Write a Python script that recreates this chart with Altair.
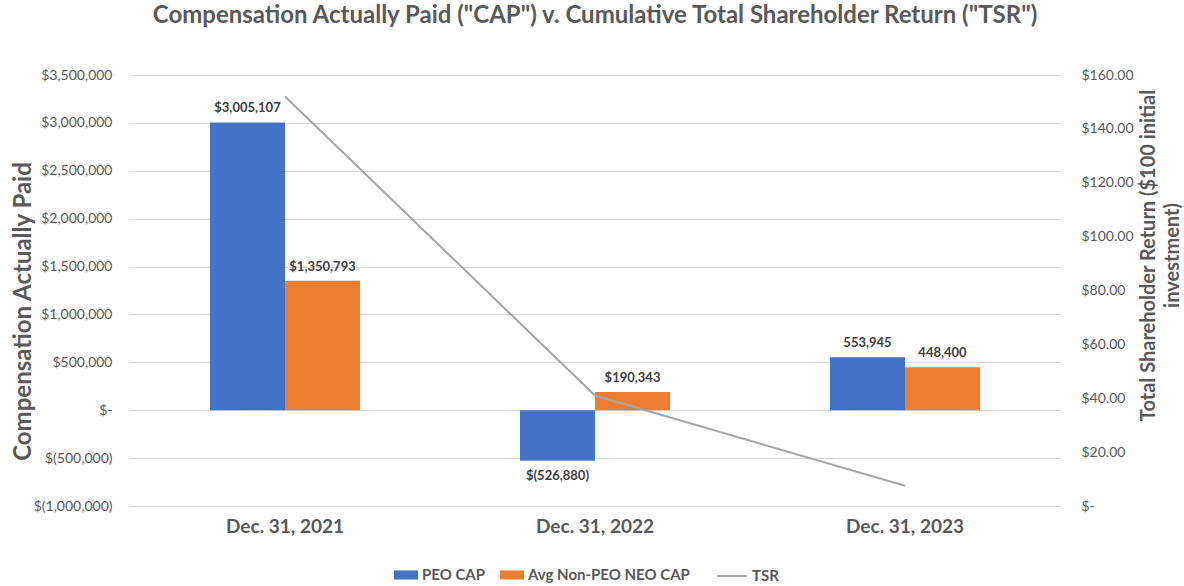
import altair as alt
import pandas as pd

years = ["Dec. 31, 2021", "Dec. 31, 2022", "Dec. 31, 2023"]
series_names = ["PEO CAP", "Avg Non-PEO NEO CAP"]
peo_cap = [3005107, -526880, 553945]
neo_cap = [1350793, 190343, 448400]
peo_labels = ["$3,005,107", "$(526,880)", "553,945"]
neo_labels = ["$1,350,793", "$190,343", "448,400"]
tsr_values = [152.0, 41.0, 7.5]
left_ticks = [-1000000, -500000, 0, 500000, 1000000, 1500000, 2000000, 2500000, 3000000, 3500000]
right_ticks = [0, 20, 40, 60, 80, 100, 120, 140, 160]

rows = []
for i, y in enumerate(years):
    rows.append({"year": y, "series": series_names[0], "value": peo_cap[i], "label": peo_labels[i]})
    rows.append({"year": y, "series": series_names[1], "value": neo_cap[i], "label": neo_labels[i]})
bars_df = pd.DataFrame(rows)
tsr_df = pd.DataFrame({"year": years, "tsr": tsr_values, "metric": ["TSR"] * 3})

FONT = "Lato"
GRAY = "#595959"

x_axis = alt.Axis(title=None, labelAngle=0, labelFont=FONT, labelFontSize=19, labelFontWeight="bold",
                  labelColor=GRAY, labelPadding=11, ticks=False, domain=False, grid=False)
x_enc = alt.X("year:N", sort=years, axis=x_axis,
              scale=alt.Scale(paddingInner=0.516, paddingOuter=0.258))
xoff = alt.XOffset("series:N", sort=series_names, scale=alt.Scale(paddingInner=0, paddingOuter=0))

left_axis = alt.Axis(
    values=left_ticks, title="Compensation Actually Paid", titleFont=FONT, titleFontSize=24,
    titleFontWeight="bold", titleColor=GRAY, titleX=-107, titleY=236, titleAngle=-90,
    titleBaseline="middle", titleAlign="center",
    labelFont=FONT, labelFontSize=14, labelColor=GRAY, labelPadding=18, ticks=False, domain=False,
    grid=True, gridColor="#D9D9D9", gridWidth=1,
    labelExpr="datum.value == 0 ? '$-' : (datum.value < 0 ? '$(' + format(-datum.value, ',') + ')' : '$' + format(datum.value, ','))",
)
y_scale = alt.Scale(domain=[-1000000, 3500000], nice=False, zero=False)

bars = alt.Chart(bars_df).mark_bar().encode(
    x=x_enc,
    xOffset=xoff,
    y=alt.Y("value:Q", scale=y_scale, axis=left_axis),
    color=alt.Color("series:N", sort=series_names,
                    scale=alt.Scale(domain=series_names, range=["#4472C4", "#ED7D31"]),
                    legend=alt.Legend(title=None, orient="none", direction="horizontal",
                                      legendX=264, legendY=488, labelLimit=400,
                                      symbolType="M-1,-0.38H1V0.38H-1Z", symbolSize=576,
                                      labelFont=FONT, labelFontSize=15, labelFontWeight="bold",
                                      labelColor=GRAY, columnPadding=14, symbolOffset=0,
                                      symbolStrokeWidth=0)),
)

text_pos = alt.Chart(bars_df).transform_filter("datum.value >= 0").mark_text(
    baseline="bottom", dy=-7, font=FONT, fontSize=13, fontWeight="bold", color="#404040"
).encode(x=x_enc, xOffset=xoff, y=alt.Y("value:Q", scale=y_scale, axis=left_axis), text="label:N")

text_neg = alt.Chart(bars_df).transform_filter("datum.value < 0").mark_text(
    baseline="top", dy=9, font=FONT, fontSize=13, fontWeight="bold", color="#404040"
).encode(x=x_enc, xOffset=xoff, y=alt.Y("value:Q", scale=y_scale, axis=left_axis), text="label:N")

right_axis = alt.Axis(
    orient="right", values=right_ticks, title=["Total Shareholder Return ($100 initial", "investment)"],
    titleFont=FONT, titleFontSize=20, titleFontWeight="bold", titleColor=GRAY,
    titleX=88, titleY=180, titleAngle=-90, titleBaseline="middle", titleAlign="center", titleLineHeight=24,
    labelFont=FONT, labelFontSize=14, labelColor=GRAY, labelPadding=21, ticks=False, domain=False, grid=False,
    labelExpr="datum.value == 0 ? '$-' : '$' + format(datum.value, '.2f')",
)

line = alt.Chart(tsr_df).mark_line(strokeWidth=2).encode(
    x=x_enc,
    y=alt.Y("tsr:Q", scale=alt.Scale(domain=[0, 160], nice=False), axis=right_axis),
    stroke=alt.Stroke("metric:N", scale=alt.Scale(domain=["TSR"], range=["#A5A5A5"]),
                      legend=alt.Legend(title=None, orient="none", legendX=586, legendY=485,
                                        symbolType="stroke", symbolSize=900, symbolStrokeWidth=2,
                                        labelFont=FONT, labelFontSize=15, labelFontWeight="bold",
                                        labelColor=GRAY)),
)

left = alt.layer(bars, text_pos, text_neg)
chart = alt.layer(left, line).resolve_scale(y="independent", color="independent").properties(
    width=930, height=431,
    title=alt.TitleParams("Compensation Actually Paid (\"CAP\") v. Cumulative Total Shareholder Return (\"TSR\")",
                          font=FONT, fontSize=24, fontWeight="bold", color=GRAY,
                          anchor="middle", frame="group", offset=40),
    autosize=alt.AutoSizeParams(type="none"),
    padding={"left": 130, "top": 75, "right": 124, "bottom": 80},
    background="white",
).configure_view(stroke=None)

chart.save("out.html", embed_options={"renderer": "svg", "actions": False})
